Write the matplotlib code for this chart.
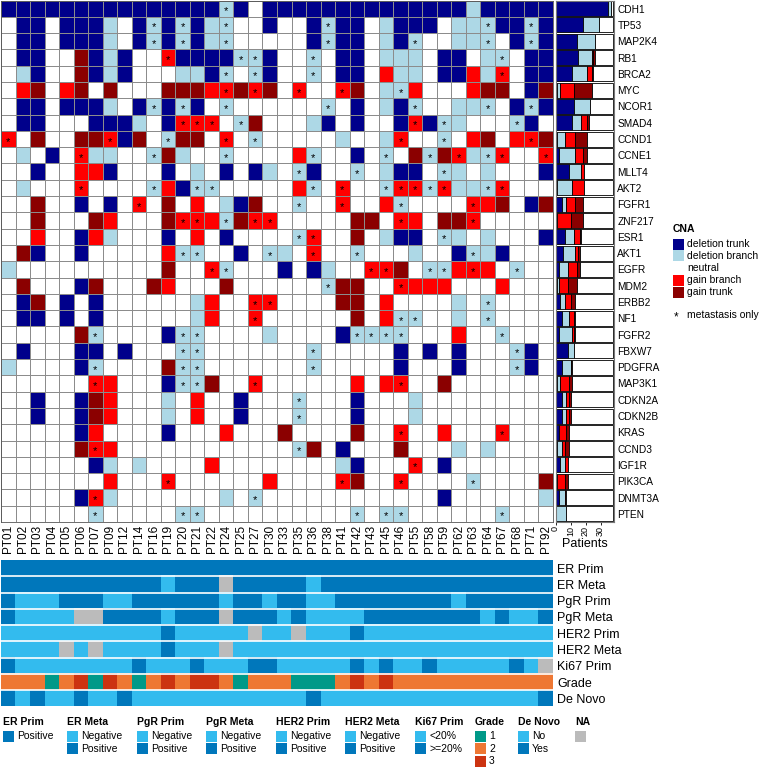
import numpy as np
import matplotlib
matplotlib.use('Agg')
import matplotlib.pyplot as plt
from matplotlib.colors import ListedColormap, to_rgb
from matplotlib.patches import Rectangle

plt.rcParams['font.family'] = ['Liberation Sans', 'DejaVu Sans']

# ---- data ----
patients = ['PT01', 'PT02', 'PT03', 'PT04', 'PT05', 'PT06', 'PT07', 'PT09', 'PT12', 'PT14',
            'PT16', 'PT19', 'PT20', 'PT21', 'PT22', 'PT24', 'PT25', 'PT27', 'PT30', 'PT33',
            'PT35', 'PT36', 'PT38', 'PT41', 'PT42', 'PT43', 'PT45', 'PT46', 'PT55', 'PT58',
            'PT59', 'PT62', 'PT63', 'PT64', 'PT67', 'PT68', 'PT71', 'PT92']

genes = ['CDH1', 'TP53', 'MAP2K4', 'RB1', 'BRCA2', 'MYC', 'NCOR1', 'SMAD4', 'CCND1', 'CCNE1',
         'MLLT4', 'AKT2', 'FGFR1', 'ZNF217', 'ESR1', 'AKT1', 'EGFR', 'MDM2', 'ERBB2', 'NF1',
         'FGFR2', 'FBXW7', 'PDGFRA', 'MAP3K1', 'CDKN2A', 'CDKN2B', 'KRAS', 'CCND3', 'IGF1R',
         'PIK3CA', 'DNMT3A', 'PTEN']

# B deletion trunk, b deletion branch, r gain branch, R gain trunk, . neutral, * metastasis only
cna_rows = [
    "B B B B B B B B B B B B B | B B b* B . B B B B B B B | B B B B B B B b B B B B B",
    ". B B . B B B b . B b* B b* | B b b* . . B . . B b* B B | . b B B B . b b b* B B b* B",
    ". B B . B B B b . B b* B b* | B b b* . . . . . B b* B B | . b B b* . . b b b* . B b* B",
    ". B B . . R B b B . . r* B | B B B b* b* B . . b* . B B | . b b b . B B . b b* . B B",
    ". b B . . R B b B . . . b | b B b* . b* B . . b* . B B | . r b b . B B r b r* . B B",
    ". r R . r R . R . . . R R | R r r* R r* R . r* . . r* R | . b b* r . . . r R R . B R",
    ". B B . B B B b . B b* B b* | B . b* . . . . . . b* . B | . b B b* . . b b b* . B b* B",
    ". B B . . . B B B b . B r* | r* r* . b* R . . . b B . B | . . B r* B b* b . . . b* B .",
    "r* . R . . R R r* B R . b* R | R . r* . b* . . . . . b . | . b r* . . b* . r R . r r* R",
    ". b . B . r* b b . . b* R b | . . b* . . . . r b* . . B | . b* . R b* R r* b b* r* . . r*",
    ". . B . . r r B . . . B . | b . B . B b . b* B . . b* | . b B B . b* b . b . . . B",
    ". b . . . r* . . . . b* r B | b* b* . . . . . r b* . r* . | . b* r* r* b* r* b b b* r* . . .",
    ". . R . . B . B . r* . R . | r . b B R . . b* . . r* . | . r b* . . . . r* r R . B R",
    ". . R . . . R r . . . R r* | r* r b* R r* r* . . . . . R | R . r* r . R R r* . . . . .",
    ". . r . . B r b . . . B . | r . B . . . . b* r* . . R | . b B B . b* b . b . . . B",
    ". R B . . B . . . . . r b* | b* . . B . b* b . r* . . b* | . . . b . . B b* b B . . .",
    "b . . . . . . . . . . R . | . r* b* . . . B . B b . . | r* r* R . b* b* r r* r . b* . .",
    ". R . . . B R . . . R r . | . . R . . . . . . b* R R | . . r* r r r . . . r . . .",
    ". B R . B . B . . . . . . | b r . . r* r* . . . . R R | . r . . . . b . b* . . . .",
    ". B B . B . B . . . . . . | b r . . r* . . . . . . R | . r b* b* . . b . b* . . . .",
    ". . . . . R b* . . . . B b* | b* . . . . b . . . . B b* | b* b* b* . . . r . . b* . . .",
    ". B . . . B B . B . . . b* | b* . . . . . . . b* . . . | . . B . B . B . . . b* B .",
    "b . . . . B b* . . . . R b* | b* . . . . . . . b* . . . | . . B . . . B . . . b* B .",
    ". . . . . . r* r . . . B b* | b* R . . r* . . . . . . r | . r r* . . R . . . . . . .",
    ". . B . . B R r . . . b . | r . . B . . . b* . . . B | . . . b . . . . . . . . .",
    ". . B . . B R r . . . b . | r . . B . . . b* . . . B | . . . b . . . . . . . . .",
    ". . . . . B r . . . . B . | . . r . . . R . . . . R | . . r* . . r . . . r* . . .",
    ". . . . . R r* r . . . . . | . . . . . . . b* R . B . | . . R . . . b . b . . . .",
    ". . . . . . B b . b . . . | . r . . . . . . . . b B | . . . r* . B . . . . . . .",
    ". . . . . . . r . . . r* . | . . . . . r . . . . r* R | . . r* . . . . b* . . . . R",
    ". . . . . B r* b . . . . . | . . b . b* . . . . . . . | . . . . . B . . . . . . b",
    ". . . . . . b* . . . . . b* | b* . . . . . . . . . . b* | . b* b* . . . . . . b* . . .",
]

# clinical tracks (P/N/X = positive/negative/NA, L/H = <20%/>=20%, Y/N de novo)
er_prim = "PPPPPPPPPPPPP PPPPPPPPPPPP PPPPPPPPPPPPP"
er_meta = "PPPPPPPPPPPNP PPXPPPPPNPPP PPPPPPPPPPPPP"
pgr_prim = "PNNNPPPNNPPPP PPNPPNPPNNPP PPPPPPNPPPPPP"
pgr_meta = "PNNNNXXPPPPNP PPXPPPNPNNNN PPPPPPPPNPNNP"
her2_prim = "NNNNNNNNNNNPN NNNNXNNXNNNP NNNNNNNNNNNNN"
her2_meta = "NNNNXNXNNNNPN NNXNNNNNNNNN NNNNNNNNNNNNN"
ki67_prim = "HLLLLLLLLHLLL HLLLHHLLLLLH LHLLHLLLLLHLX"
grade = "2221231321232 332122211123 2322222222222"
de_novo = "YNYNNYNNYNNNN NNNNNNNNYNNN NNNNNNNNNNNNY"

track_names = ['ER Prim', 'ER Meta', 'PgR Prim', 'PgR Meta', 'HER2 Prim', 'HER2 Meta',
               'Ki67 Prim', 'Grade', 'De Novo']
track_values = [er_prim, er_meta, pgr_prim, pgr_meta, her2_prim, her2_meta, ki67_prim,
                grade, de_novo]

# ---- colours ----
del_trunk, del_branch = '#00008B', '#ADD8E6'
gain_branch, gain_trunk = '#FF0000', '#8B0000'
dark, light, na_col = '#0077BB', '#33BBEE', '#BBBBBB'
grade_cols = {'1': '#009988', '2': '#EE7733', '3': '#CC3311'}

W, H = 763, 769


def box(x0, y0, x1, y1):
    return [x0 / W, 1 - y1 / H, (x1 - x0) / W, (y1 - y0) / H]


calls, stars = [], []
for row in cna_rows:
    toks = row.replace('|', ' ').split()
    assert len(toks) == len(patients), row
    calls.append([t[0] for t in toks])
    stars.append([t.endswith('*') for t in toks])

code_idx = {'.': 0, 'B': 1, 'b': 2, 'r': 3, 'R': 4}
grid = np.array([[code_idx[c] for c in r] for r in calls])
n_gene, n_pat = grid.shape

fig = plt.figure(figsize=(W / 100, H / 100), dpi=100)

# heatmap
ax = fig.add_axes(box(1, 0.5, 553, 522))
cmap = ListedColormap(['white', del_trunk, del_branch, gain_branch, gain_trunk])
ax.pcolormesh(grid, cmap=cmap, vmin=-0.5, vmax=4.5, edgecolors='#8c8c8c', linewidth=0.5)
for i in range(n_gene):
    for j in range(n_pat):
        if stars[i][j]:
            ax.text(j + 0.5, i + 0.66, '*', ha='center', va='center', fontsize=8, color='black')
ax.set_xlim(0, n_pat)
ax.set_ylim(n_gene, 0)
ax.set_yticks([])
ax.set_xticks(np.arange(n_pat) + 0.5)
ax.set_xticklabels(patients, rotation=90, fontsize=8.5)
ax.tick_params(axis='x', length=0, pad=2)
for s in ax.spines.values():
    s.set_color('#555555')
    s.set_linewidth(0.6)

# per-gene count bars
axb = fig.add_axes(box(555.5, 0.5, 614, 522))
y = np.arange(n_gene) + 0.5
left = np.zeros(n_gene)
for code, col in [('B', del_trunk), ('b', del_branch), ('r', gain_branch), ('R', gain_trunk), ('.', 'white')]:
    cnt = np.array([r.count(code) for r in calls], dtype=float)
    m = cnt > 0
    axb.barh(y[m], cnt[m], left=left[m], height=0.92, color=col, edgecolor='black', linewidth=0.6)
    left += cnt
axb.set_xlim(0, 39)
axb.set_ylim(n_gene, 0)
axb.set_xticks([0, 10, 20, 30])
axb.set_xticklabels(['0', '10', '20', '30'], rotation=90, fontsize=6.5)
axb.tick_params(axis='x', length=2, pad=1, width=0.6)
axb.set_xlabel('Patients', fontsize=9, labelpad=1)
axb.yaxis.tick_right()
axb.set_yticks(y)
axb.set_yticklabels(genes, fontsize=7.3)
axb.tick_params(axis='y', length=0, pad=2.5)
for s in axb.spines.values():
    s.set_color('#777777')
    s.set_linewidth(0.8)

# clinical tracks
def track_colour(name, v):
    if v == 'X':
        return na_col
    if name == 'Grade':
        return grade_cols[v]
    return dark if v in ('P', 'H', 'Y') else light

img = np.zeros((len(track_names), n_pat, 3))
for i, (name, vals) in enumerate(zip(track_names, track_values)):
    vals = vals.replace(' ', '')
    assert len(vals) == n_pat, name
    for j, v in enumerate(vals):
        img[i, j] = to_rgb(track_colour(name, v))

axt = fig.add_axes(box(1, 560, 553, 706.5))
axt.imshow(img, aspect='auto', interpolation='nearest', extent=(0, n_pat, len(track_names), 0))
for k in range(1, len(track_names)):
    axt.axhline(k, color='white', lw=1.2)
axt.set_xticks([])
axt.yaxis.tick_right()
axt.set_yticks(np.arange(len(track_names)) + 0.5)
axt.set_yticklabels(track_names, fontsize=9)
axt.tick_params(axis='y', length=0, pad=3)
for s in axt.spines.values():
    s.set_visible(False)


def patch(x, yc, col, size=11):
    fig.add_artist(Rectangle((x / W, 1 - (yc + size / 2) / H), size / W, size / H,
                             transform=fig.transFigure, facecolor=col, edgecolor='none'))


def label(x, yc, s, **kw):
    fig.text(x / W, 1 - yc / H, s, va='center', ha='left', **kw)


# CNA legend
label(673, 229, 'CNA', fontsize=7.5, fontweight='bold')
cna_legend = [('deletion trunk', del_trunk), ('deletion branch', del_branch), ('neutral', None),
              ('gain branch', gain_branch), ('gain trunk', gain_trunk)]
for k, (txt, col) in enumerate(cna_legend):
    yc = 244 + 12 * k
    if col:
        patch(673, yc, col)
    label(687, yc, txt, fontsize=7.5)
label(674, 317, '*', fontsize=8.5)
label(687, 315, 'metastasis only', fontsize=7.5)

# clinical legend
legend_groups = [
    ('ER Prim', 3, [('Positive', dark)]),
    ('ER Meta', 67, [('Negative', light), ('Positive', dark)]),
    ('PgR Prim', 137, [('Negative', light), ('Positive', dark)]),
    ('PgR Meta', 206, [('Negative', light), ('Positive', dark)]),
    ('HER2 Prim', 276, [('Negative', light), ('Positive', dark)]),
    ('HER2 Meta', 345, [('Negative', light), ('Positive', dark)]),
    ('Ki67 Prim', 415, [('<20%', light), ('>=20%', dark)]),
    ('Grade', 475, [('1', grade_cols['1']), ('2', grade_cols['2']), ('3', grade_cols['3'])]),
    ('De Novo', 518, [('No', light), ('Yes', dark)]),
    ('NA', 575, [('', na_col)]),
]
for title, x, items in legend_groups:
    label(x, 722, title, fontsize=7.5, fontweight='bold')
    for k, (txt, col) in enumerate(items):
        yc = 736 + 12.5 * k
        patch(x, yc, col)
        if txt:
            label(x + 14, yc, txt, fontsize=7.5)

fig.savefig('out.png', dpi=100)
